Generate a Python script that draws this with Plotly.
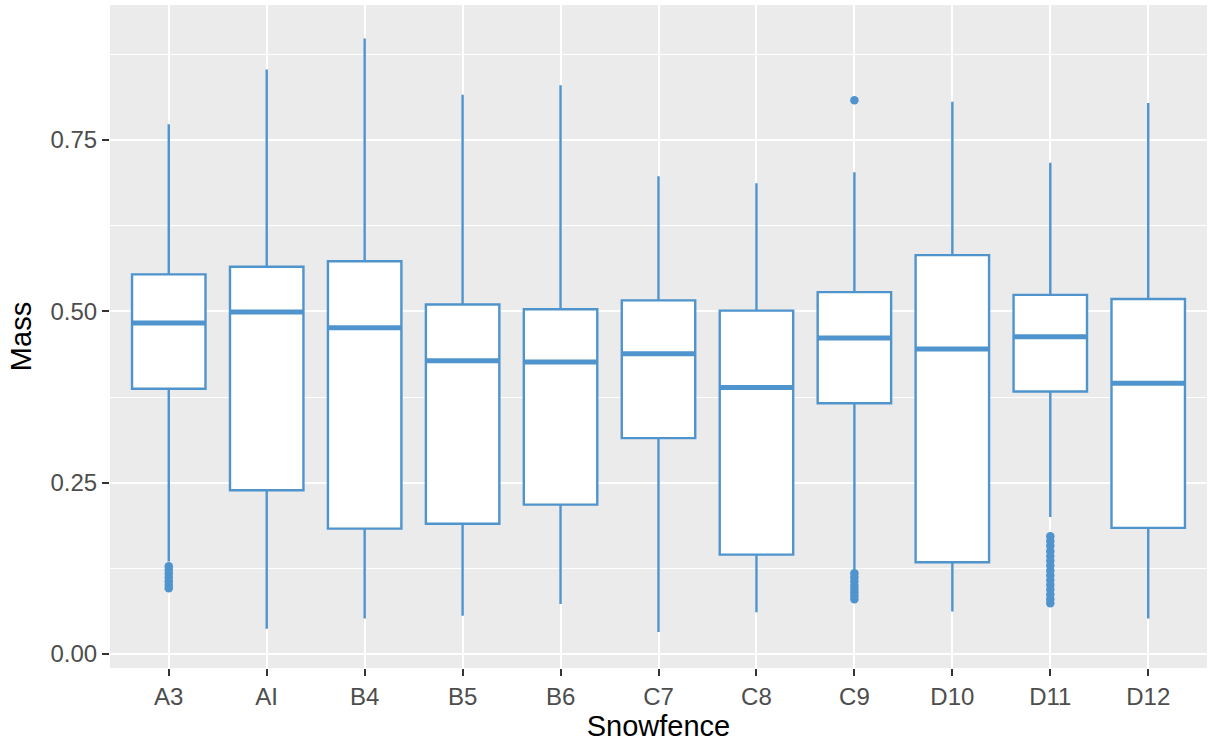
import plotly.graph_objects as go

# ---- data ----
categories = ["A3", "AI", "B4", "B5", "B6", "C7", "C8", "C9", "D10", "D11", "D12"]
upper_whisker = [0.773, 0.853, 0.898, 0.816, 0.830, 0.697, 0.687, 0.703, 0.806, 0.717, 0.804]
q3 = [0.554, 0.565, 0.573, 0.510, 0.503, 0.516, 0.501, 0.528, 0.582, 0.524, 0.518]
median = [0.483, 0.499, 0.476, 0.428, 0.426, 0.438, 0.389, 0.461, 0.445, 0.463, 0.395]
q1 = [0.387, 0.239, 0.183, 0.190, 0.218, 0.315, 0.145, 0.366, 0.134, 0.383, 0.184]
lower_whisker = [0.135, 0.037, 0.052, 0.056, 0.073, 0.032, 0.061, 0.123, 0.062, 0.200, 0.052]

outliers_A3 = [0.128, 0.123, 0.118, 0.112, 0.106, 0.101, 0.096]
outliers_C9 = [0.808, 0.118, 0.112, 0.106, 0.100, 0.095, 0.090, 0.085, 0.080]
outliers_D11 = [0.172, 0.165, 0.158, 0.150, 0.143, 0.136, 0.129, 0.122, 0.115,
                0.108, 0.101, 0.094, 0.087, 0.080, 0.074]
outliers = {"A3": outliers_A3, "C9": outliers_C9, "D11": outliers_D11}

y_ticks = [0.0, 0.25, 0.5, 0.75]

# ---- styling ----
BLUE = "#4F94CD"
BOX_WIDTH = 0.75
pos = list(range(len(categories)))

fig = go.Figure()

fig.add_trace(go.Box(
    x=pos, q1=q1, median=median, q3=q3,
    lowerfence=lower_whisker, upperfence=upper_whisker,
    width=BOX_WIDTH, whiskerwidth=0,
    fillcolor="white", line=dict(color=BLUE, width=2.4),
    boxpoints=False, showlegend=False, hoverinfo="skip",
))

# thicker median bars (ggplot fatten)
mx, my = [], []
for i, m in zip(pos, median):
    mx += [i - BOX_WIDTH / 2, i + BOX_WIDTH / 2, None]
    my += [m, m, None]
fig.add_trace(go.Scatter(x=mx, y=my, mode="lines",
                         line=dict(color=BLUE, width=5),
                         showlegend=False, hoverinfo="skip"))

# outliers
ox, oy = [], []
for cat, vals in outliers.items():
    i = categories.index(cat)
    ox += [i] * len(vals)
    oy += vals
fig.add_trace(go.Scatter(x=ox, y=oy, mode="markers",
                         marker=dict(color=BLUE, size=8.5, line=dict(width=0)),
                         showlegend=False, hoverinfo="skip"))

fig.update_layout(
    width=1210, height=743,
    margin=dict(l=110, r=3, t=5, b=75, autoexpand=False),
    paper_bgcolor="white", plot_bgcolor="#EBEBEB",
    font=dict(family="Liberation Sans, Arial, sans-serif"),
    showlegend=False,
)

fig.update_xaxes(
    range=[-0.6, len(categories) - 0.4],
    tickmode="array", tickvals=pos, ticktext=categories,
    showgrid=True, gridcolor="white", gridwidth=2,
    zeroline=False, showline=False,
    ticks="outside", ticklen=7, tickwidth=1.5, tickcolor="#333333",
    tickfont=dict(size=24, color="#4D4D4D"),
    title=dict(text="Snowfence", font=dict(size=29, color="black"), standoff=4),
    automargin=False,
)

fig.update_yaxes(
    range=[-0.0204, 0.947],
    tickmode="array", tickvals=y_ticks, tickformat=".2f",
    showgrid=True, gridcolor="white", gridwidth=2,
    minor=dict(tickmode="array", tickvals=[0.125, 0.375, 0.625, 0.875],
               showgrid=True, gridcolor="white", gridwidth=1, ticks=""),
    zeroline=False, showline=False,
    ticks="outside", ticklen=7, tickwidth=1.5, tickcolor="#333333",
    tickfont=dict(size=24, color="#4D4D4D"),
    title=dict(text="Mass", font=dict(size=29, color="black"), standoff=10),
    automargin=False,
)

fig.write_html("out.html")
